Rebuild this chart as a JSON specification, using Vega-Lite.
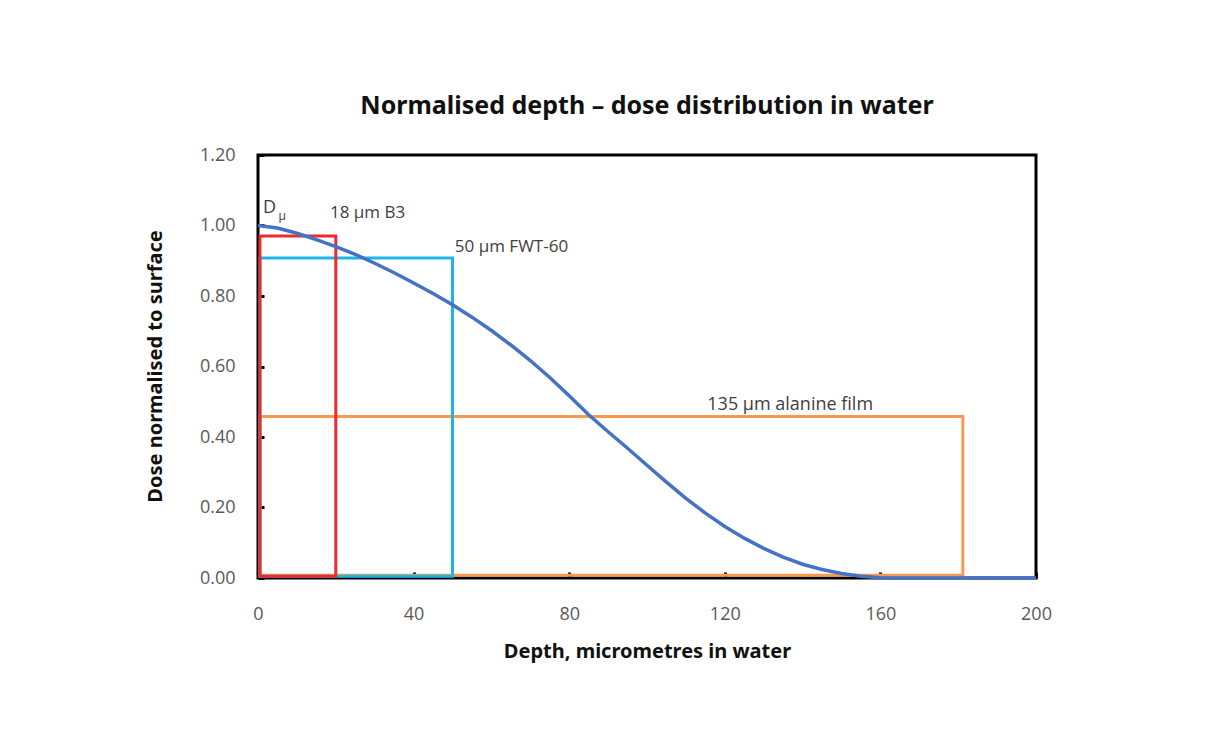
{
  "$schema": "https://vega.github.io/schema/vega-lite/v6.json",
  "width": 778,
  "height": 423,
  "autosize": {"type": "none"},
  "padding": {"left": 258, "top": 155, "right": 170, "bottom": 167},
  "background": "white",
  "view": {"stroke": "black", "strokeWidth": 3},
  "title": {
    "text": "Normalised depth – dose distribution in water",
    "font": "Noto Sans",
    "fontSize": 25,
    "fontWeight": "bold",
    "color": "#111111",
    "anchor": "middle",
    "offset": 27
  },
  "datasets": {
    "curve": [
      {"depth": 0, "dose": 1.0},
      {"depth": 5, "dose": 0.993},
      {"depth": 10, "dose": 0.978},
      {"depth": 15, "dose": 0.96},
      {"depth": 20, "dose": 0.94},
      {"depth": 25, "dose": 0.918},
      {"depth": 30, "dose": 0.893},
      {"depth": 35, "dose": 0.866},
      {"depth": 40, "dose": 0.837},
      {"depth": 45, "dose": 0.807},
      {"depth": 50, "dose": 0.775},
      {"depth": 55, "dose": 0.74},
      {"depth": 60, "dose": 0.702},
      {"depth": 65, "dose": 0.661},
      {"depth": 70, "dose": 0.617},
      {"depth": 75, "dose": 0.569},
      {"depth": 80, "dose": 0.517},
      {"depth": 85, "dose": 0.463},
      {"depth": 90, "dose": 0.415},
      {"depth": 95, "dose": 0.368},
      {"depth": 100, "dose": 0.32},
      {"depth": 105, "dose": 0.272},
      {"depth": 110, "dose": 0.226},
      {"depth": 115, "dose": 0.184},
      {"depth": 120, "dose": 0.146},
      {"depth": 125, "dose": 0.113},
      {"depth": 130, "dose": 0.084},
      {"depth": 135, "dose": 0.059},
      {"depth": 140, "dose": 0.039},
      {"depth": 145, "dose": 0.024},
      {"depth": 150, "dose": 0.013},
      {"depth": 155, "dose": 0.005},
      {"depth": 160, "dose": 0.001},
      {"depth": 165, "dose": 0.0},
      {"depth": 200, "dose": 0.0}
    ],
    "rects": [
      {"name": "135 µm alanine film", "x0": 0.5, "x1": 181.2, "y0": 0.008, "y1": 0.458},
      {"name": "50 µm FWT-60", "x0": 0.5, "x1": 50, "y0": 0.005, "y1": 0.908},
      {"name": "18 µm B3", "x0": 0.5, "x1": 20, "y0": 0.005, "y1": 0.97}
    ],
    "labels": [
      {"label": "18 μm B3", "x": 18.5, "y": 1.035, "size": 17, "style": "normal"},
      {"label": "50 μm FWT-60", "x": 50.6, "y": 0.94, "size": 17, "style": "normal"},
      {"label": "135 μm alanine film", "x": 115.5, "y": 0.49, "size": 18, "style": "normal"},
      {"label": "D", "x": 1.3, "y": 1.05, "size": 18, "style": "italic"},
      {"label": "μ", "x": 5.3, "y": 1.028, "size": 12, "style": "italic"}
    ]
  },
  "encoding": {},
  "layer": [
    {
      "data": {"name": "rects"},
      "mark": {"type": "rect", "filled": false, "strokeWidth": 3},
      "encoding": {
        "x": {"field": "x0", "type": "quantitative", "scale": {"domain": [0, 200]}},
        "x2": {"field": "x1"},
        "y": {"field": "y0", "type": "quantitative", "scale": {"domain": [0, 1.2]}},
        "y2": {"field": "y1"},
        "stroke": {
          "field": "name",
          "type": "nominal",
          "scale": {
            "domain": ["135 µm alanine film", "50 µm FWT-60", "18 µm B3"],
            "range": ["#F79A4E", "#1FB5EA", "#EE2A2F"]
          },
          "legend": null
        }
      }
    },
    {
      "data": {"name": "curve"},
      "mark": {"type": "line", "color": "#4472C4", "strokeWidth": 3.5},
      "encoding": {
        "x": {
          "field": "depth",
          "type": "quantitative",
          "scale": {"domain": [0, 200]},
          "axis": {
            "values": [0, 40, 80, 120, 160, 200],
            "title": "Depth, micrometres in water",
            "grid": false,
            "domain": false,
            "labelFlush": false,
            "tickSize": -6,
            "tickWidth": 3,
            "tickColor": "black",
            "labelPadding": 33,
            "labelFont": "Open Sans",
            "labelFontSize": 18,
            "labelColor": "#595959",
            "titleFont": "Noto Sans",
            "titleFontSize": 20,
            "titleFontWeight": "bold",
            "titleColor": "#111111",
            "titlePadding": 18
          }
        },
        "y": {
          "field": "dose",
          "type": "quantitative",
          "scale": {"domain": [0, 1.2]},
          "axis": {
            "values": [0, 0.2, 0.4, 0.6, 0.8, 1.0, 1.2],
            "format": ".2f",
            "title": "Dose normalised to surface",
            "grid": false,
            "domain": false,
            "labelFlush": false,
            "tickSize": -6,
            "tickWidth": 3,
            "tickColor": "black",
            "labelPadding": 29,
            "labelFont": "Open Sans",
            "labelFontSize": 18,
            "labelColor": "#595959",
            "titleFont": "Noto Sans",
            "titleFontSize": 20,
            "titleFontWeight": "bold",
            "titleColor": "#111111",
            "titleX": -93,
            "titleY": 211
          }
        }
      }
    },
    {
      "data": {"name": "labels"},
      "mark": {"type": "text", "align": "left", "baseline": "middle", "font": "Open Sans", "color": "#404040"},
      "encoding": {
        "x": {"field": "x", "type": "quantitative"},
        "y": {"field": "y", "type": "quantitative"},
        "text": {"field": "label"},
        "size": {"field": "size", "type": "quantitative", "scale": null},
        "fontStyle": {"field": "style", "type": "nominal", "scale": null, "legend": null}
      }
    }
  ]
}
